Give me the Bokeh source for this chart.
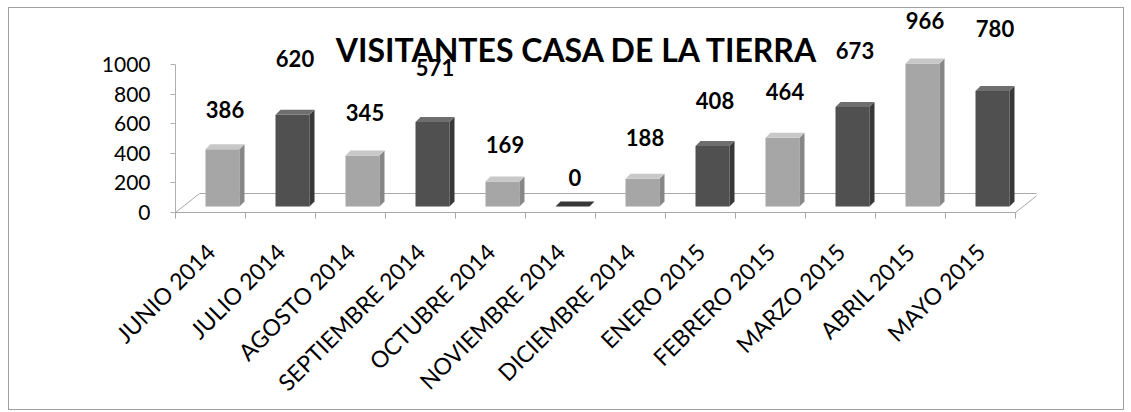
import math
from bokeh.plotting import figure
from bokeh.models import FixedTicker, Label, Range1d, InlineStyleSheet
from bokeh.embed import file_html
from bokeh.resources import INLINE
from bokeh.core.properties import value

# ---- data ----
months = ["JUNIO 2014", "JULIO 2014", "AGOSTO 2014", "SEPTIEMBRE 2014",
          "OCTUBRE 2014", "NOVIEMBRE 2014", "DICIEMBRE 2014", "ENERO 2015",
          "FEBRERO 2015", "MARZO 2015", "ABRIL 2015", "MAYO 2015"]
visitors = [386, 620, 345, 571, 169, 0, 188, 408, 464, 673, 966, 780]
y_ticks = [0, 200, 400, 600, 800, 1000]
title_text = "VISITANTES CASA DE LA TIERRA"

# ---- style: how far (px) each value label floats above its bar ----
label_raise = [35, 51, 38, 49, 32, 24, 36, 41, 41, 51, 38, 58]

# ---- geometry / style ----
W, H = 1131, 412
PX_PER_CAT = 70.0
PX_PER_UNIT = 0.148
FRAME_LEFT, FRAME_TOP, BOTTOM_PAD = 80, 0, 12
AXIS_X_PX = 175                      # pixel column of the value axis
AXIS_Y_PX = 212                      # pixel row of the value-0 line
X_END = 11.8
X_START = -0.5 - (AXIS_X_PX - FRAME_LEFT) / PX_PER_CAT
frame_w = (X_END - X_START) * PX_PER_CAT
frame_bottom = H - BOTTOM_PAD
px_x = 1.0 / PX_PER_CAT          # data units per pixel (x)
px_y = 1.0 / PX_PER_UNIT         # data units per pixel (y)
Y_START = -(frame_bottom - AXIS_Y_PX) * px_y
Y_END = (AXIS_Y_PX - FRAME_TOP) * px_y

FONT = "Lato"
light = dict(front="#a6a6a6", side="#878787", top="#c8c8c8")
dark = dict(front="#505050", side="#383838", top="#6e6e6e")

p = figure(width=W, height=H, output_backend="svg", toolbar_location=None,
           x_range=Range1d(X_START, X_END), y_range=Range1d(Y_START, Y_END),
           min_border_left=FRAME_LEFT, min_border_top=FRAME_TOP,
           min_border_bottom=BOTTOM_PAD,
           min_border_right=int(round(W - FRAME_LEFT - frame_w)))
p.outline_line_color = None
p.grid.grid_line_color = None
p.background_fill_color = "white"
p.border_fill_color = "white"
p.stylesheets = [InlineStyleSheet(css="""
:host { position: relative; }
:host::after {
  content: ""; position: absolute; left: 8px; top: 7px; right: 7px; bottom: 2px;
  border: 1px solid #a0a0a0; pointer-events: none; z-index: 100;
}
""")]

n = len(visitors)

# floor (3D base)
back_dx, back_dy = 24 * px_x, 19 * px_y
x0, x1 = -0.5, n - 0.5
p.line([x0, x0 + back_dx, x1 + back_dx, x1], [0, back_dy, back_dy, 0],
       line_color="#a8a8a8", line_width=1)

# bars (front face + side + top)
bar_dx, bar_base = 12 * px_x, 6 * px_y
half_w = 17 * px_x
dep_x, dep_y = 5 * px_x, 5 * px_y
lefts, rights, bottoms, tops, fcols = [], [], [], [], []
side_xs, side_ys, side_c, top_xs, top_ys, top_c = [], [], [], [], [], []
for i, v in enumerate(visitors):
    pal = light if i % 2 == 0 else dark
    c = i + bar_dx
    l, r, b, t = c - half_w, c + half_w, bar_base, bar_base + v
    lefts.append(l); rights.append(r); bottoms.append(b); tops.append(t)
    fcols.append(pal["front"])
    side_xs.append([r, r + dep_x, r + dep_x, r])
    side_ys.append([b, b + dep_y, t + dep_y, t])
    side_c.append(pal["side"])
    top_xs.append([l, r, r + dep_x, l + dep_x])
    top_ys.append([t, t, t + dep_y, t + dep_y])
    top_c.append(pal["top"] if v > 0 else pal["side"])

p.quad(left=lefts, right=rights, bottom=bottoms, top=tops,
       fill_color=fcols, line_color=None)
p.patches(side_xs, side_ys, fill_color=side_c, line_color=None)
p.patches(top_xs, top_ys, fill_color=top_c, line_color=None)

# value labels (text glyphs; whole label area lies inside the frame)
p.text(x=[i + bar_dx + dep_x / 2 for i in range(n)],
       y=[bar_base + v + dep_y + label_raise[i] * px_y for i, v in enumerate(visitors)],
       text=[str(v) for v in visitors],
       text_font=value(FONT), text_font_style="bold", text_font_size="22px",
       text_color="black", text_align="center", text_baseline="middle")

# title
p.add_layout(Label(x=(577 - AXIS_X_PX) * px_x - 0.5, y=(AXIS_Y_PX - 49) * px_y,
                   text=title_text, text_font=FONT, text_font_style="bold",
                   text_font_size="32px", text_color="black",
                   text_align="center", text_baseline="middle"))

# y axis pinned at the left end of the category axis
ya = p.yaxis[0]
ya.fixed_location = -0.5
ya.ticker = FixedTicker(ticks=y_ticks, minor_ticks=[])
ya.bounds = (0, 1000)
ya.axis_line_color = "#b0b0b0"
ya.major_tick_line_color = "#b0b0b0"
ya.major_tick_out = 5
ya.major_tick_in = 0
ya.minor_tick_line_color = None
ya.major_label_text_font = FONT
ya.major_label_text_font_size = "21px"
ya.major_label_text_color = "black"
ya.major_label_standoff = 20

# x axis pinned at value 0: line and category-boundary ticks
xa = p.xaxis[0]
xa.fixed_location = 0
xa.ticker = FixedTicker(ticks=list(range(n)), minor_ticks=[i - 0.5 for i in range(n + 1)])
xa.major_label_overrides = {i: "" for i in range(n)}
xa.major_label_text_font_size = "1px"
xa.major_label_standoff = 0
xa.bounds = (-0.5, n - 0.5)
xa.axis_line_color = "#a8a8a8"
xa.major_tick_line_color = None
xa.major_tick_out = 0
xa.major_tick_in = 0
xa.minor_tick_line_color = "#a8a8a8"
xa.minor_tick_out = 6
xa.minor_tick_in = 0

# rotated month labels, ending just under each category
for i, m in enumerate(months):
    p.add_layout(Label(x=i, y=0, text=m, angle=math.pi / 4,
                       x_offset=0, y_offset=-35,
                       text_font=FONT, text_font_size="23px", text_color="black",
                       text_align="right", text_baseline="alphabetic"))

open("out.html", "w").write(file_html(p, INLINE))
